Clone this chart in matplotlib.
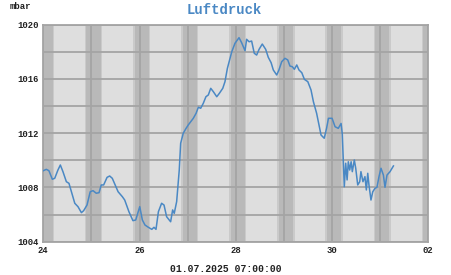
import matplotlib
matplotlib.use("Agg")
import matplotlib.pyplot as plt

# hours since 24.06.2025 00:00
hours = [0, 1.5, 2.8, 4.5, 5.7, 7.3, 8.5, 9.8, 11.5, 12.8, 15.7, 17.3, 19.0, 20.1, 21.8,
         23.4, 24.8, 26.4, 27.8, 28.9, 30.1, 31.8, 33.1, 34.4, 37.3, 39.4, 40.6, 42.7,
         44.7, 46.1, 48.1, 49.4, 50.7, 52.4, 54.1, 55.2, 56.2, 57.4, 59.0, 60.2, 61.5,
         63.5, 64.5, 65.3, 66.5, 67.8, 68.5, 69.8, 71.2, 72.3, 73.5, 74.8, 76.2, 77.3,
         78.5, 79.8, 81.1, 82.3, 83.5, 84.8, 86.5, 87.8, 89.5, 90.6, 91.8, 94.0, 95.6,
         97.6, 98.9, 100.6, 101.4, 102.6, 103.9, 105.2, 106.4, 107.6, 109.2, 110.9,
         112.2, 113.6, 114.7, 116.4, 117.5, 118.9, 120.5, 121.9, 123.0, 124.2, 125.2,
         126.4, 127.5, 128.9, 130.2, 131.9, 133.5, 134.7, 136.3, 137.5, 138.5, 140.1,
         141.3, 142.2, 144.0, 145.5, 147.1, 148.5, 149.1, 150.1, 150.8, 151.5, 152.1,
         152.8, 153.5, 154.1, 155.1, 155.8, 156.8, 157.8, 158.4, 159.4, 160.4, 161.1,
         161.8, 162.4, 163.4, 164.3, 165.4, 166.4, 167.4, 168.4, 169.6, 170.4, 171.4,
         172.9, 174.6]
pressure = [1009.23, 1009.33, 1009.23, 1008.60, 1008.67, 1009.28, 1009.65, 1009.16,
            1008.42, 1008.30, 1006.83, 1006.58, 1006.14, 1006.28, 1006.70, 1007.68,
            1007.76, 1007.57, 1007.61, 1008.18, 1008.18, 1008.74, 1008.84, 1008.67,
            1007.68, 1007.32, 1007.07, 1006.21, 1005.55, 1005.60, 1006.58, 1005.60,
            1005.23, 1005.06, 1004.91, 1005.06, 1004.91, 1006.21, 1006.83, 1006.70,
            1005.84, 1005.47, 1006.34, 1006.09, 1006.95, 1009.28, 1011.25, 1011.99,
            1012.35, 1012.60, 1012.84, 1013.09, 1013.46, 1013.90, 1013.83, 1014.20,
            1014.68, 1014.81, 1015.30, 1015.05, 1014.68, 1014.93, 1015.30, 1015.79,
            1016.77, 1018.00, 1018.62, 1019.03, 1018.66, 1018.07, 1018.91, 1018.73,
            1018.78, 1017.88, 1017.75, 1018.17, 1018.56, 1018.17, 1017.58, 1017.19,
            1016.65, 1016.28, 1016.65, 1017.26, 1017.51, 1017.39, 1016.94, 1016.89,
            1016.70, 1017.02, 1016.65, 1016.45, 1015.96, 1015.79, 1015.18, 1014.31,
            1013.46, 1012.60, 1011.86, 1011.62, 1012.38, 1013.09, 1013.09, 1012.47,
            1012.35, 1012.71, 1011.93, 1008.05, 1009.78, 1008.55, 1009.89, 1009.28,
            1009.89, 1009.16, 1010.02, 1009.41, 1008.18, 1008.42, 1009.16, 1008.42,
            1008.79, 1007.81, 1009.04, 1008.18, 1007.07, 1007.68, 1007.93, 1008.01,
            1008.79, 1009.41, 1008.91, 1008.01, 1008.91, 1009.16, 1009.58]

x_ticks = [0, 48, 96, 144, 192]
x_labels = ["24", "26", "28", "30", "02"]
y_ticks = [1004, 1008, 1012, 1016, 1020]
y_labels = ["1004", "1008", "1012", "1016", "1020"]
days = [0, 1, 2, 3, 4, 5, 6, 7, 8]
# night / twilight periods in hours relative to midnight
dusk_start, night_start, night_end, dawn_end = -3.3, -2.5, 4.6, 5.3

mono = ["Liberation Mono", "DejaVu Sans Mono"]

fig = plt.figure(figsize=(4.51, 2.75), dpi=100)
ax = fig.add_axes([0.096, 0.1211, 0.8537, 0.7898])
ax.set_facecolor("#dedede")

for d in days:
    base = d * 24
    ax.axvspan(base + dusk_start, base + dawn_end, color="#cacaca", lw=0, zorder=0)
    ax.axvspan(base + night_start, base + night_end, color="#b9b9b9", lw=0, zorder=0)

for v in range(1004, 1021, 2):
    ax.axhline(v, color="#a4a4a4", lw=1.3, zorder=1)
for t in range(0, 193, 24):
    ax.axvline(t, color="#a4a4a4", lw=1.3, zorder=1)

ax.plot(hours, pressure, color="#4a88c4", lw=1.1, zorder=3)

ax.set_xlim(0, 192)
ax.set_ylim(1004, 1020)
ax.set_xticks(x_ticks)
ax.set_xticklabels(x_labels)
ax.set_yticks(y_ticks)
ax.set_yticklabels(y_labels)
ax.tick_params(length=0, pad=3)
for lab in ax.get_xticklabels() + ax.get_yticklabels():
    lab.set_fontfamily(mono)
    lab.set_fontweight("bold")
    lab.set_fontsize(6.4)
    lab.set_color("#222222")
for s in ax.spines.values():
    s.set_color("#a4a4a4")
    s.set_linewidth(1.3)

fig.text(0.498, 0.965, "Luftdruck", ha="center", va="center", family=mono,
         fontweight="bold", fontsize=10, color="#4a88c4")
fig.text(0.022, 0.975, "mbar", ha="left", va="center", family=mono,
         fontweight="bold", fontsize=6.4, color="#222222")
fig.text(0.5, 0.022, "01.07.2025 07:00:00", ha="center", va="center", family=mono,
         fontweight="bold", fontsize=7.0, color="#222222")

fig.savefig("out.png", dpi=100)
